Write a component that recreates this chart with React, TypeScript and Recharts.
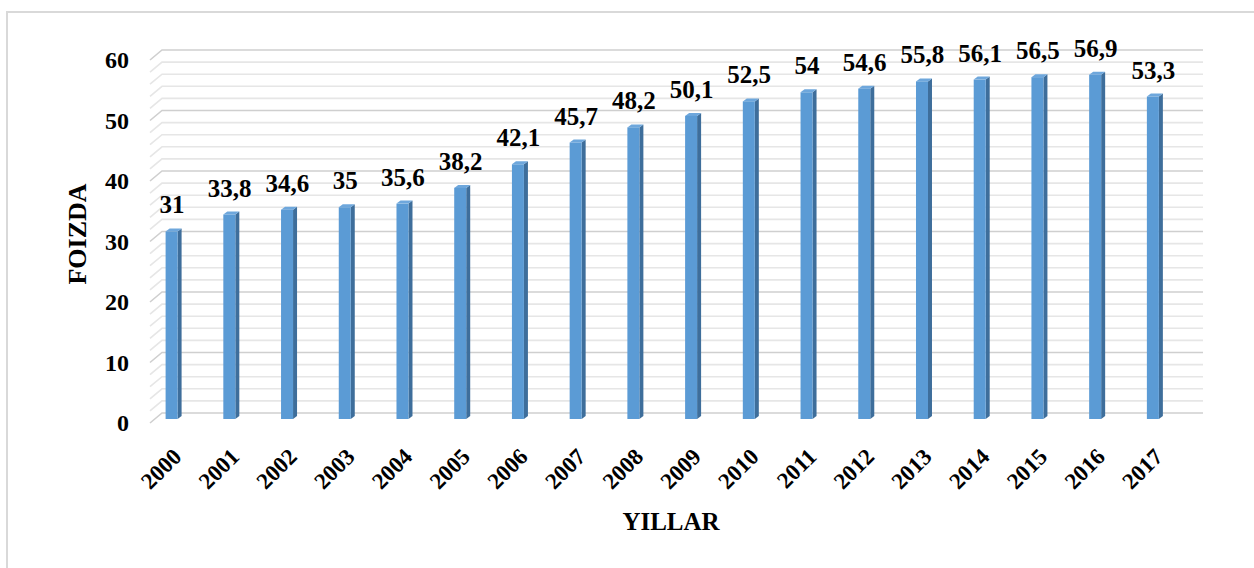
import React from "react";
import { BarChart, Bar, XAxis, YAxis, ReferenceLine, LabelList } from "recharts";

const years = ["2000", "2001", "2002", "2003", "2004", "2005", "2006", "2007", "2008", "2009", "2010", "2011", "2012", "2013", "2014", "2015", "2016", "2017"];
const shares = [31, 33.8, 34.6, 35, 35.6, 38.2, 42.1, 45.7, 48.2, 50.1, 52.5, 54, 54.6, 55.8, 56.1, 56.5, 56.9, 53.3];
const yTicks = [0, 10, 20, 30, 40, 50, 60];
const gridValues = [0, 2, 4, 6, 8, 10, 12, 14, 16, 18, 20, 22, 24, 26, 28, 30, 32, 34, 36, 38, 40, 42, 44, 46, 48, 50, 52, 54, 56, 58, 60];

const data = years.map((year, i) => ({ year, share: shares[i] }));

const FONT = "'Liberation Serif', 'Times New Roman', serif";
const DEPTH_X = 12;
const DEPTH_Y = 10;

// bar with a small 3d side and top, like the Excel "3-D column"
function Column3D(props: any) {
  const { x, y, width, height } = props;
  if (height == null || width == null) return null;
  const cx = x + width / 2 - 2.4;
  const left = cx - 6;
  const right = cx + 6;
  const top = y - 4;
  const bottom = y + height - 4;
  const dx = 4;
  const dy = 3;
  return (
    <g>
      <polygon points={`${right},${top} ${right + dx},${top - dy} ${right + dx},${bottom - dy} ${right},${bottom}`} fill="#3e6e9b" />
      <polygon points={`${left},${top} ${right},${top} ${right + dx},${top - dy} ${left + dx},${top - dy}`} fill="#6ea7dc" />
      <rect x={left} y={top} width={right - left} height={bottom - top} fill="#5b9bd5" />
    </g>
  );
}

function GridLine(props: any) {
  const { x1, x2, y1, major } = props;
  return (
    <path
      d={`M${x1 + 5},${y1} L${x1 + 5 + DEPTH_X},${y1 - DEPTH_Y} L${x2 + 19},${y1 - DEPTH_Y}`}
      fill="none"
      stroke={major ? "#cfcfcf" : "#e6e6e6"}
      strokeWidth={1.6}
    />
  );
}

function ValueLabel(props: any) {
  const { x, y, width, value } = props;
  return (
    <text x={x + width / 2 - 2} y={y - 22} textAnchor="middle" fontFamily={FONT} fontWeight="bold" fontSize={25} fill="#000">
      {String(value).replace(".", ",")}
    </text>
  );
}

function YearTick(props: any) {
  const { x, y, payload } = props;
  const tx = x + 9;
  const ty = y + 35;
  return (
    <text x={tx} y={ty} textAnchor="end" transform={`rotate(-45, ${tx}, ${ty})`} fontFamily={FONT} fontWeight="bold" fontSize={23} fill="#000">
      {payload.value}
    </text>
  );
}

function ValueTick(props: any) {
  const { x, y, payload } = props;
  return (
    <text x={x} y={y} dy="0.35em" textAnchor="end" fontFamily={FONT} fontWeight="bold" fontSize={24} fill="#000">
      {payload.value}
    </text>
  );
}

export default function App() {
  return (
    <div style={{ position: "absolute", left: 0, top: 0, width: 1254, height: 568, background: "#fff" }}>
      <div style={{ position: "absolute", left: 6, top: 11, right: 0, height: 560, borderTop: "2px solid #d9d9d9", borderLeft: "2px solid #d9d9d9" }} />
      <div style={{ position: "absolute", left: 0, top: 0 }}>
        <BarChart width={1254} height={568} data={data} margin={{ top: 60, right: 70, bottom: 85, left: 60 }}>
          {gridValues.map((v) => (
            <ReferenceLine key={v} y={v} zIndex={-10} shape={(p: any) => <GridLine {...p} major={v % 10 === 0} />} />
          ))}
          <XAxis
            dataKey="year"
            height={60}
            axisLine={false}
            tickLine={false}
            tickSize={0}
            tickMargin={0}
            interval={0}
            tick={<YearTick />}
            label={{
              content: () => (
                <text x={671} y={521} dy="0.35em" textAnchor="middle" fontFamily={FONT} fontWeight="bold" fontSize={25} fill="#000">
                  YILLAR
                </text>
              ),
            }}
          />
          <YAxis
            width={85}
            domain={[0, 60]}
            ticks={yTicks}
            axisLine={false}
            tickLine={false}
            tickSize={0}
            tickMargin={16}
            tick={<ValueTick />}
            label={{
              content: () => (
                <text x={77} y={234} dy="0.35em" textAnchor="middle" transform="rotate(-90, 77, 234)" fontFamily={FONT} fontWeight="bold" fontSize={26} fill="#000">
                  FOIZDA
                </text>
              ),
            }}
          />
          <Bar dataKey="share" barSize={16} shape={<Column3D />} isAnimationActive={false}>
            <LabelList dataKey="share" content={<ValueLabel />} />
          </Bar>
        </BarChart>
      </div>
    </div>
  );
}
